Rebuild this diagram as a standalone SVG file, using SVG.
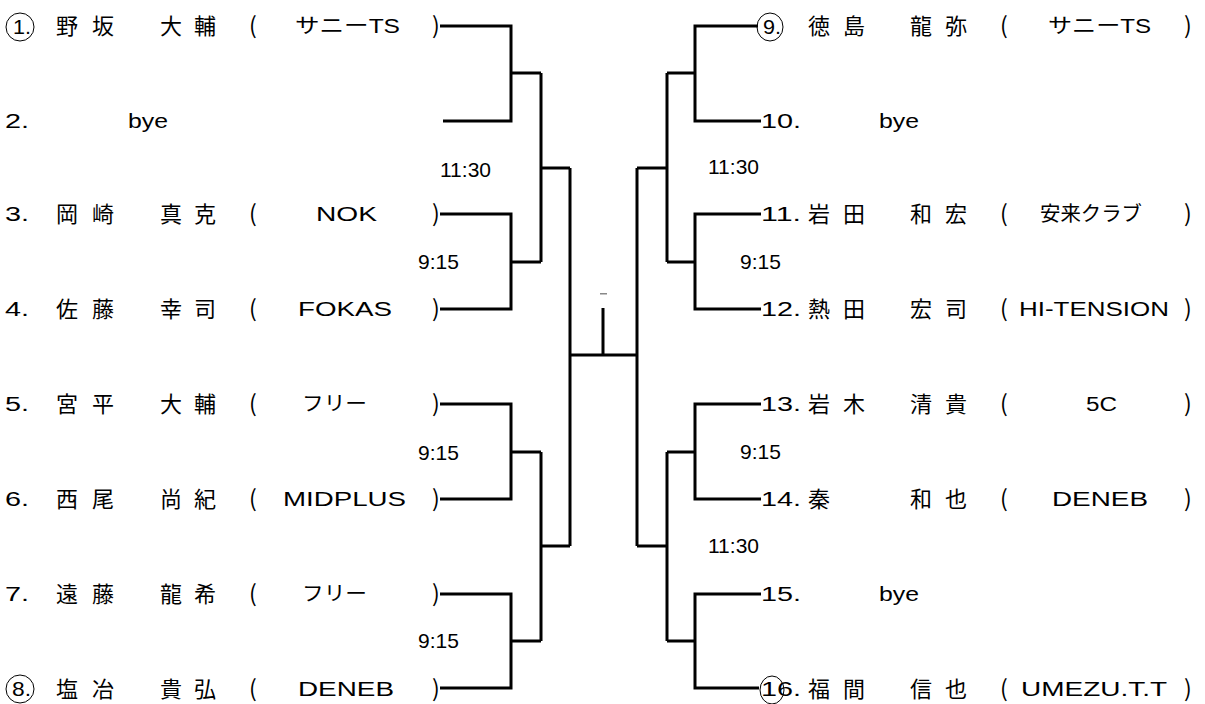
<svg xmlns="http://www.w3.org/2000/svg" width="1205" height="704" viewBox="0 0 1205 704">
<style>
.jp{font-family:"Noto Sans CJK JP",sans-serif;font-size:22px;fill:#000}
.pr{font-family:"Noto Sans CJK JP",sans-serif;font-size:23px;fill:#000}
.nm{font-family:"Liberation Sans","Noto Sans CJK JP",sans-serif;font-size:20px;fill:#000}
.tm{font-family:"Liberation Sans","Noto Sans CJK JP",sans-serif;font-size:20px;fill:#000}
.tl{font-family:"Liberation Sans",sans-serif;font-size:21px;fill:#000}
.ln{fill:none;stroke:#000;stroke-width:3;stroke-linejoin:miter}
.cir{fill:none;stroke:#000;stroke-width:1}
</style>
<rect width="1205" height="704" fill="#fff"/>
<g id="connectors">
<path class="ln" d="M440,26 H511 V121 H443 M511,73 H541"/>
<path class="ln" d="M440,214 H511 V309 H440 M511,262 H541"/>
<path class="ln" d="M440,404 H511 V499 H440 M511,452 H541"/>
<path class="ln" d="M440,594 H511 V688 H440 M511,641 H541"/>
<path class="ln" d="M541,73 V262 M541,168 H570 M541,452 V641 M541,546 H570"/>
<path class="ln" d="M570,168 V546 M570,355 H637 M603,308 V355"/>
<path class="ln" d="M637,168 V546 M637,168 H667 M637,546 H667"/>
<path class="ln" d="M667,73 V262 M667,452 V641"/>
<path class="ln" d="M758,26 H695 V121 H761 M667,73 H695"/>
<path class="ln" d="M761,214 H695 V309 H761 M667,262 H695"/>
<path class="ln" d="M761,404 H695 V499 H761 M667,452 H695"/>
<path class="ln" d="M761,594 H695 V688 H759 M667,641 H695"/>
<rect x="600" y="293" width="7" height="1.5" fill="#888"/>
</g>
<g id="times">
<text class="tl" x="440" y="177">11:30</text>
<text class="tl" x="418" y="269">9:15</text>
<text class="tl" x="418" y="460">9:15</text>
<text class="tl" x="418" y="648">9:15</text>
<text class="tl" x="708" y="174">11:30</text>
<text class="tl" x="740" y="269">9:15</text>
<text class="tl" x="740" y="459">9:15</text>
<text class="tl" x="708" y="553">11:30</text>
</g>
<g id="p1">
<ellipse class="cir" cx="20" cy="27" rx="14" ry="14"/>
<text class="nm" x="13" y="34" textLength="18" lengthAdjust="spacingAndGlyphs">1.</text>
<text class="jp" x="56" y="34">野</text><text class="jp" x="92" y="34">坂</text><text class="jp" x="160" y="34">大</text><text class="jp" x="194" y="34">輔</text>
<text class="pr" x="249" y="34">(</text><text class="tm" x="295" y="33" textLength="105" lengthAdjust="spacingAndGlyphs">サニーTS</text><text class="pr" x="432" y="34">)</text>
</g>
<g id="p2">
<text class="nm" x="5" y="128" textLength="24" lengthAdjust="spacingAndGlyphs">2.</text><text class="nm" x="128" y="128" textLength="40" lengthAdjust="spacingAndGlyphs">bye</text>
</g>
<g id="p3">
<text class="nm" x="5" y="221" textLength="24" lengthAdjust="spacingAndGlyphs">3.</text>
<text class="jp" x="56" y="222">岡</text><text class="jp" x="92" y="222">崎</text><text class="jp" x="160" y="222">真</text><text class="jp" x="194" y="222">克</text>
<text class="pr" x="249" y="222">(</text><text class="tm" x="316" y="221" textLength="61" lengthAdjust="spacingAndGlyphs">NOK</text><text class="pr" x="432" y="222">)</text>
</g>
<g id="p4">
<text class="nm" x="5" y="316" textLength="24" lengthAdjust="spacingAndGlyphs">4.</text>
<text class="jp" x="56" y="317">佐</text><text class="jp" x="92" y="317">藤</text><text class="jp" x="160" y="317">幸</text><text class="jp" x="194" y="317">司</text>
<text class="pr" x="249" y="317">(</text><text class="tm" x="298" y="316" textLength="94" lengthAdjust="spacingAndGlyphs">FOKAS</text><text class="pr" x="432" y="317">)</text>
</g>
<g id="p5">
<text class="nm" x="5" y="411" textLength="24" lengthAdjust="spacingAndGlyphs">5.</text>
<text class="jp" x="56" y="412">宮</text><text class="jp" x="92" y="412">平</text><text class="jp" x="160" y="412">大</text><text class="jp" x="194" y="412">輔</text>
<text class="pr" x="249" y="412">(</text><text class="tm" x="302" y="411" textLength="65" lengthAdjust="spacingAndGlyphs">フリー</text><text class="pr" x="432" y="412">)</text>
</g>
<g id="p6">
<text class="nm" x="5" y="506" textLength="24" lengthAdjust="spacingAndGlyphs">6.</text>
<text class="jp" x="56" y="507">西</text><text class="jp" x="92" y="507">尾</text><text class="jp" x="160" y="507">尚</text><text class="jp" x="194" y="507">紀</text>
<text class="pr" x="249" y="507">(</text><text class="tm" x="283" y="506" textLength="123" lengthAdjust="spacingAndGlyphs">MIDPLUS</text><text class="pr" x="432" y="507">)</text>
</g>
<g id="p7">
<text class="nm" x="5" y="601" textLength="24" lengthAdjust="spacingAndGlyphs">7.</text>
<text class="jp" x="56" y="602">遠</text><text class="jp" x="92" y="602">藤</text><text class="jp" x="160" y="602">龍</text><text class="jp" x="194" y="602">希</text>
<text class="pr" x="249" y="602">(</text><text class="tm" x="302" y="601" textLength="65" lengthAdjust="spacingAndGlyphs">フリー</text><text class="pr" x="432" y="602">)</text>
</g>
<g id="p8">
<ellipse class="cir" cx="20" cy="689" rx="14" ry="14"/>
<text class="nm" x="12" y="696" textLength="19" lengthAdjust="spacingAndGlyphs">8.</text>
<text class="jp" x="56" y="697">塩</text><text class="jp" x="92" y="697">冶</text><text class="jp" x="160" y="697">貴</text><text class="jp" x="194" y="697">弘</text>
<text class="pr" x="249" y="697">(</text><text class="tm" x="298" y="696" textLength="96" lengthAdjust="spacingAndGlyphs">DENEB</text><text class="pr" x="432" y="697">)</text>
</g>
<g id="p9">
<ellipse class="cir" cx="770" cy="27" rx="13" ry="14"/>
<text class="nm" x="763" y="34" textLength="18" lengthAdjust="spacingAndGlyphs">9.</text>
<text class="jp" x="808" y="34">徳</text><text class="jp" x="843" y="34">島</text><text class="jp" x="910" y="34">龍</text><text class="jp" x="945" y="34">弥</text>
<text class="pr" x="1000" y="34">(</text><text class="tm" x="1048" y="33" textLength="103" lengthAdjust="spacingAndGlyphs">サニーTS</text><text class="pr" x="1184" y="34">)</text>
</g>
<g id="p10">
<text class="nm" x="761" y="128" textLength="40" lengthAdjust="spacingAndGlyphs">10.</text><text class="nm" x="879" y="128" textLength="40" lengthAdjust="spacingAndGlyphs">bye</text>
</g>
<g id="p11">
<text class="nm" x="761" y="221" textLength="40" lengthAdjust="spacingAndGlyphs">11.</text>
<text class="jp" x="808" y="222">岩</text><text class="jp" x="843" y="222">田</text><text class="jp" x="910" y="222">和</text><text class="jp" x="945" y="222">宏</text>
<text class="pr" x="1000" y="222">(</text><text class="tm" x="1040" y="221" textLength="102" lengthAdjust="spacingAndGlyphs">安来クラブ</text><text class="pr" x="1184" y="222">)</text>
</g>
<g id="p12">
<text class="nm" x="761" y="316" textLength="40" lengthAdjust="spacingAndGlyphs">12.</text>
<text class="jp" x="808" y="317">熱</text><text class="jp" x="843" y="317">田</text><text class="jp" x="910" y="317">宏</text><text class="jp" x="945" y="317">司</text>
<text class="pr" x="1000" y="317">(</text><text class="tm" x="1019" y="316" textLength="150" lengthAdjust="spacingAndGlyphs">HI-TENSION</text><text class="pr" x="1184" y="317">)</text>
</g>
<g id="p13">
<text class="nm" x="761" y="411" textLength="40" lengthAdjust="spacingAndGlyphs">13.</text>
<text class="jp" x="808" y="412">岩</text><text class="jp" x="843" y="412">木</text><text class="jp" x="910" y="412">清</text><text class="jp" x="945" y="412">貴</text>
<text class="pr" x="1000" y="412">(</text><text class="tm" x="1086" y="411" textLength="31" lengthAdjust="spacingAndGlyphs">5C</text><text class="pr" x="1184" y="412">)</text>
</g>
<g id="p14">
<text class="nm" x="761" y="506" textLength="40" lengthAdjust="spacingAndGlyphs">14.</text>
<text class="jp" x="808" y="507">秦</text><text class="jp" x="910" y="507">和</text><text class="jp" x="945" y="507">也</text>
<text class="pr" x="1000" y="507">(</text><text class="tm" x="1052" y="506" textLength="96" lengthAdjust="spacingAndGlyphs">DENEB</text><text class="pr" x="1184" y="507">)</text>
</g>
<g id="p15">
<text class="nm" x="761" y="601" textLength="40" lengthAdjust="spacingAndGlyphs">15.</text><text class="nm" x="879" y="601" textLength="40" lengthAdjust="spacingAndGlyphs">bye</text>
</g>
<g id="p16">
<text class="nm" x="761" y="696" textLength="40" lengthAdjust="spacingAndGlyphs">16.</text>
<ellipse class="cir" cx="772" cy="690" rx="12" ry="14"/>
<text class="jp" x="808" y="697">福</text><text class="jp" x="843" y="697">間</text><text class="jp" x="910" y="697">信</text><text class="jp" x="945" y="697">也</text>
<text class="pr" x="1000" y="697">(</text><text class="tm" x="1021" y="696" textLength="146" lengthAdjust="spacingAndGlyphs">UMEZU.T.T</text><text class="pr" x="1184" y="697">)</text>
</g>
</svg>
